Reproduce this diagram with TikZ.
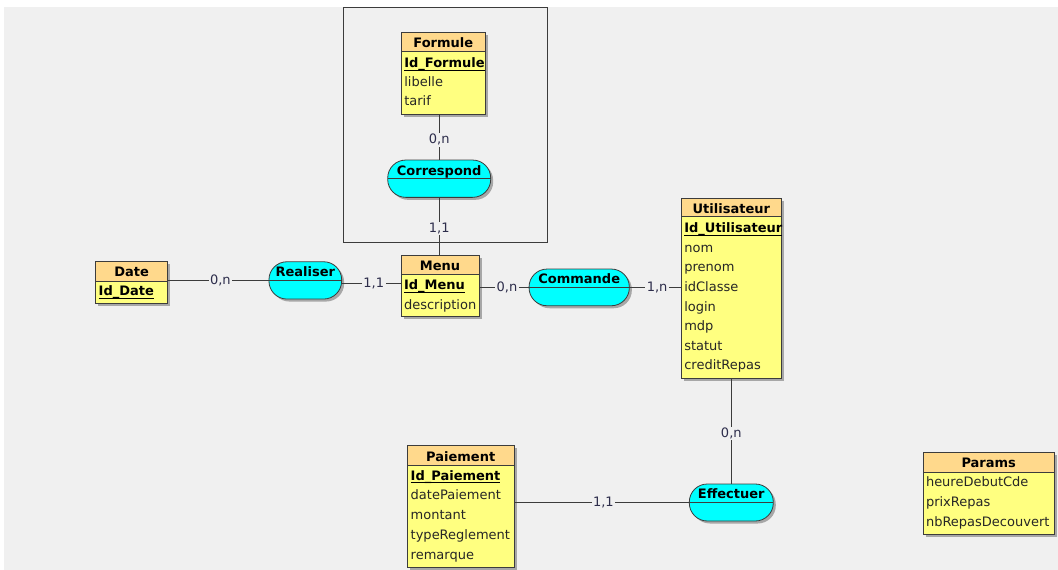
\documentclass[tikz,border=0pt]{standalone}
\usepackage{fontspec}
\setmainfont{DejaVu Sans}
\usetikzlibrary{shadows}
\definecolor{fondgris}{RGB}{240,240,240}
\definecolor{enteteorange}{RGB}{255,217,140}
\definecolor{corpsjaune}{RGB}{255,255,128}
\definecolor{assoccyan}{RGB}{0,255,255}
\definecolor{traitgris}{RGB}{60,60,60}
\definecolor{cardbleu}{RGB}{45,45,75}

\begin{document}
\begin{tikzpicture}[x=1pt,y=-1pt,
    every node/.style={inner sep=0pt, outer sep=0pt, font=\fontsize{13}{15}\selectfont},
    ombre/.style={drop shadow={shadow xshift=2.5pt, shadow yshift=-2.5pt, fill=black, opacity=0.3}},
    entite/.style={draw=traitgris, fill=corpsjaune, line width=0.8pt, anchor=north west, ombre},
    entete/.style={draw=traitgris, fill=enteteorange, line width=0.8pt},
    titre/.style={anchor=base, font=\fontsize{13}{15}\selectfont\bfseries},
    ident/.style={anchor=base west, font=\fontsize{13}{15}\selectfont\bfseries},
    attr/.style={anchor=base west, text=black!85},
    souligne/.style={line width=0.9pt},
    assoc/.style={draw=traitgris, fill=assoccyan, line width=0.8pt, rounded corners=18pt, ombre},
    lien/.style={draw=traitgris, line width=0.8pt},
    card/.style={fill=fondgris, inner xsep=1.5pt, inner ysep=1pt, text=cardbleu}]

    % background
    \fill[white] (0,0) rectangle (1058,570);
    \fill[fondgris] (4,7) rectangle (1058,570);

    % frame round Formule
    \draw[traitgris, line width=0.8pt] (343.3,7.3) rectangle (547.3,242.3);

    % Formule
    \node[entite, minimum width=84pt, minimum height=81.6pt] (formule) at (401.3,32.7) {};
    \draw[entete] (401.3,32.7) rectangle ++(84,19);
    \node[titre] (formule-t) at (443.3,47.7) {Formule};
    \node[ident] (formule-id) at (404.3,67.7) {Id\_Formule};
    \draw[souligne] ([yshift=-2.5pt]formule-id.base west) -- ([yshift=-2.5pt]formule-id.base east);
    \foreach \a [count=\i] in {libelle,tarif}
        \node[attr] (formule-\i) at (404.3,67.7+19*\i) {\a};

    % Date
    \node[entite, minimum width=72pt, minimum height=41.6pt] (date) at (95.7,261.7) {};
    \draw[entete] (95.7,261.7) rectangle ++(72,19.3);
    \node[titre] (date-t) at (131.7,276.7) {Date};
    \node[ident] (date-id) at (98.7,295.7) {Id\_Date};
    \draw[souligne] ([yshift=-2.5pt]date-id.base west) -- ([yshift=-2.5pt]date-id.base east);

    % Menu
    \node[entite, minimum width=78pt, minimum height=61pt] (menu) at (401,255.7) {};
    \draw[entete] (401,255.7) rectangle ++(78,19);
    \node[titre] (menu-t) at (440,270.7) {Menu};
    \node[ident] (menu-id) at (404,289.5) {Id\_Menu};
    \draw[souligne] ([yshift=-2.5pt]menu-id.base west) -- ([yshift=-2.5pt]menu-id.base east);
    \node[attr] (menu-1) at (404,309.3) {description};

    % Utilisateur
    \node[entite, minimum width=99.3pt, minimum height=180pt] (utilisateur) at (681.7,198.3) {};
    \draw[entete] (681.7,198.3) rectangle ++(99.3,18.4);
    \node[titre] (utilisateur-t) at (731.3,213.3) {Utilisateur};
    \node[ident] (utilisateur-id) at (684.3,232.7) {Id\_Utilisateur};
    \draw[souligne] ([yshift=-2.5pt]utilisateur-id.base west) -- ([yshift=-2.5pt]utilisateur-id.base east);
    \foreach \a [count=\i] in {nom,prenom,idClasse,login,mdp,statut,creditRepas}
        \node[attr] (utilisateur-\i) at (684.3,232.7+19.6*\i) {\a};

    % Paiement
    \node[entite, minimum width=106.7pt, minimum height=121.3pt] (paiement) at (407.3,445.7) {};
    \draw[entete] (407.3,445.7) rectangle ++(106.7,19.3);
    \node[titre] (paiement-t) at (460.7,461.2) {Paiement};
    \node[ident] (paiement-id) at (410.7,480) {Id\_Paiement};
    \draw[souligne] ([yshift=-2.5pt]paiement-id.base west) -- ([yshift=-2.5pt]paiement-id.base east);
    \foreach \a [count=\i] in {datePaiement,montant,typeReglement,remarque}
        \node[attr] (paiement-\i) at (410.7,480+19.8*\i) {\a};

    % Params
    \node[entite, minimum width=130.7pt, minimum height=81.6pt] (params) at (923.3,452.7) {};
    \draw[entete] (923.3,452.7) rectangle ++(130.7,19.6);
    \node[titre] (params-t) at (988.7,467.3) {Params};
    \foreach \a [count=\i from 0] in {heureDebutCde,prixRepas,nbRepasDecouvert}
        \node[attr] (params-\i) at (926,486.7+19.7*\i) {\a};

    % associations
    \node[assoc, minimum width=103pt, minimum height=37.3pt] (correspond) at (439.2,178.7) {};
    \node[assoc, minimum width=72.7pt, minimum height=37.3pt] (realiser) at (305.3,280.4) {};
    \node[assoc, minimum width=100.3pt, minimum height=36.7pt] (commande) at (579.2,287.4) {};
    \node[assoc, minimum width=84pt, minimum height=37pt] (effectuer) at (731.3,502.5) {};
    \foreach \r in {correspond,realiser,commande,effectuer}
        \draw[lien] (\r.west) -- (\r.east);
    \node[titre] (correspond-t) at ([yshift=3.5pt]correspond.center) {Correspond};
    \node[titre] (realiser-t) at ([yshift=3.5pt]realiser.center) {Realiser};
    \node[titre] (commande-t) at ([yshift=3.8pt]commande.center) {Commande};
    \node[titre] (effectuer-t) at ([yshift=4.3pt]effectuer.center) {Effectuer};

    % links and cardinalities
    \draw[lien] (formule.south -| correspond.north) -- node[card, pos=0.56] (c-formule) {0,n} (correspond.north);
    \draw[lien] (correspond.south) -- node[card, pos=0.53] (c-correspond) {1,1} (correspond.south |- menu.north);
    \draw[lien] (date.east |- realiser.west) -- node[card, pos=0.52] (c-date) {0,n} (realiser.west);
    \draw[lien] ([yshift=-3pt]realiser.east) -- node[card, pos=0.54] (c-realiser) {1,1} ([yshift=-3pt]realiser.east -| menu.west);
    \draw[lien] (menu.east |- commande.west) -- node[card, pos=0.56] (c-menu) {0,n} (commande.west);
    \draw[lien] (commande.east) -- node[card, pos=0.53] (c-commande) {1,n} (commande.east -| utilisateur.west);
    \draw[lien] (utilisateur.south -| effectuer.north) -- node[card, pos=0.52] (c-utilisateur) {0,n} (effectuer.north);
    \draw[lien] (paiement.east |- effectuer.west) -- node[card, pos=0.51] (c-paiement) {1,1} (effectuer.west);
\end{tikzpicture}
\end{document}
